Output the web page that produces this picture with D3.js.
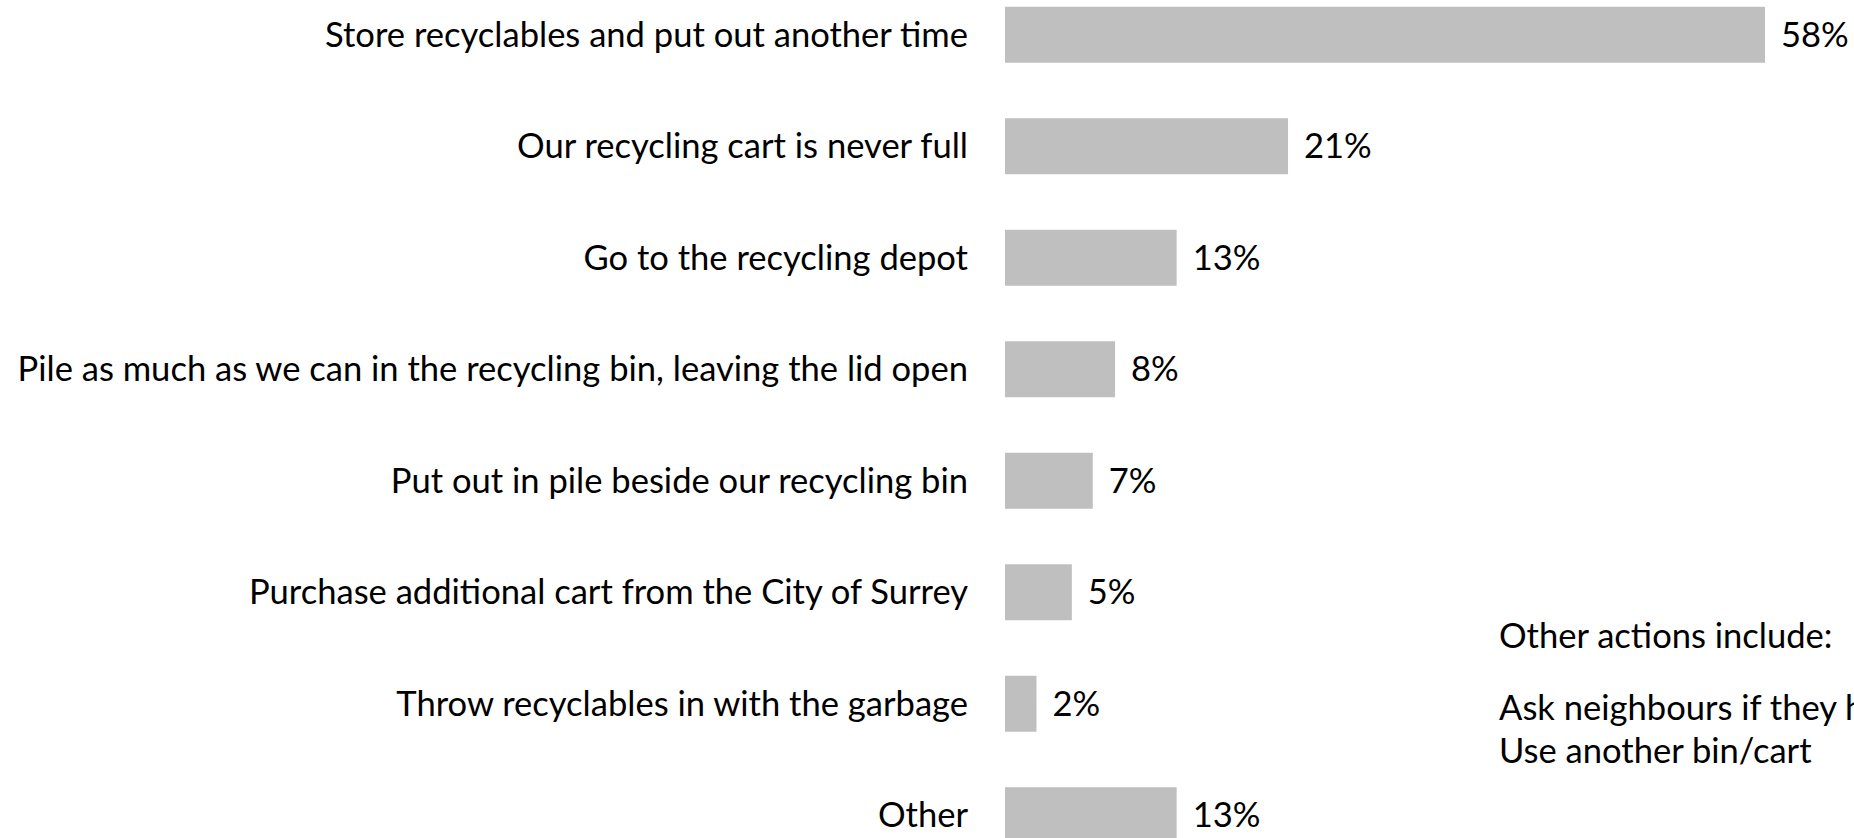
<!DOCTYPE html>
<html>
<head>
<meta charset="utf-8">
<script src="https://cdn.jsdelivr.net/npm/d3@7"></script>
<style>
  html, body { margin: 0; padding: 0; background: #fff; overflow: hidden; }
  svg { display: block; }
</style>
</head>
<body>
<svg id="chart" width="1854" height="838"></svg>
<script>
const categories = [
  "Store recyclables and put out another time",
  "Our recycling cart is never full",
  "Go to the recycling depot",
  "Pile as much as we can in the recycling bin, leaving the lid open",
  "Put out in pile beside our recycling bin",
  "Purchase additional cart from the City of Surrey",
  "Throw recyclables in with the garbage",
  "Other"
];
const values = [58, 21.6, 13.1, 8.4, 6.7, 5.1, 2.4, 13.1];
const valueLabels = ["58%", "21%", "13%", "8%", "7%", "5%", "2%", "13%"];
const noteLines = ["Other actions include:", "Ask neighbours if they have room", "Use another bin/cart"];

const W = 1854, H = 838;
const FONT = "Lato, 'Open Sans', 'Noto Sans', sans-serif";
const svg = d3.select("#chart");

const x = d3.scaleLinear().domain([0, d3.max(values)]).range([1005, 1765]);
const y = d3.scaleBand().domain(categories).range([-21, 871])
  .paddingInner(0.498).paddingOuter(0.249);

// fit font size so the longest category label matches the reference width
const probe = svg.append("text").attr("font-family", FONT).attr("font-size", 100)
  .text(categories[3]);
const fs = 100 * 951 / probe.node().getComputedTextLength();
probe.remove();

const g = svg.append("g");

g.selectAll("rect.bar").data(values).join("rect")
  .attr("class", "bar")
  .attr("x", x(0))
  .attr("y", (d, i) => y(categories[i]))
  .attr("width", d => x(d) - x(0))
  .attr("height", y.bandwidth())
  .attr("fill", "#bfbfbf");

g.selectAll("text.cat").data(categories).join("text")
  .attr("class", "cat")
  .attr("x", x(0) - 37)
  .attr("y", d => y(d) + y.bandwidth() / 2)
  .attr("dy", "0.35em")
  .attr("text-anchor", "end")
  .attr("font-family", FONT)
  .attr("font-size", fs)
  .attr("fill", "#000")
  .text(d => d);

g.selectAll("text.val").data(values).join("text")
  .attr("class", "val")
  .attr("x", d => x(d) + 16)
  .attr("y", (d, i) => y(categories[i]) + y.bandwidth() / 2)
  .attr("dy", "0.35em")
  .attr("font-family", FONT)
  .attr("font-size", fs)
  .attr("fill", "#000")
  .text((d, i) => valueLabels[i]);

const noteY = [648, 720, 763];
g.selectAll("text.note").data(noteLines).join("text")
  .attr("class", "note")
  .attr("x", 1499)
  .attr("y", (d, i) => noteY[i])
  .attr("font-family", FONT)
  .attr("font-size", fs)
  .attr("fill", "#000")
  .text(d => d);
</script>
</body>
</html>
